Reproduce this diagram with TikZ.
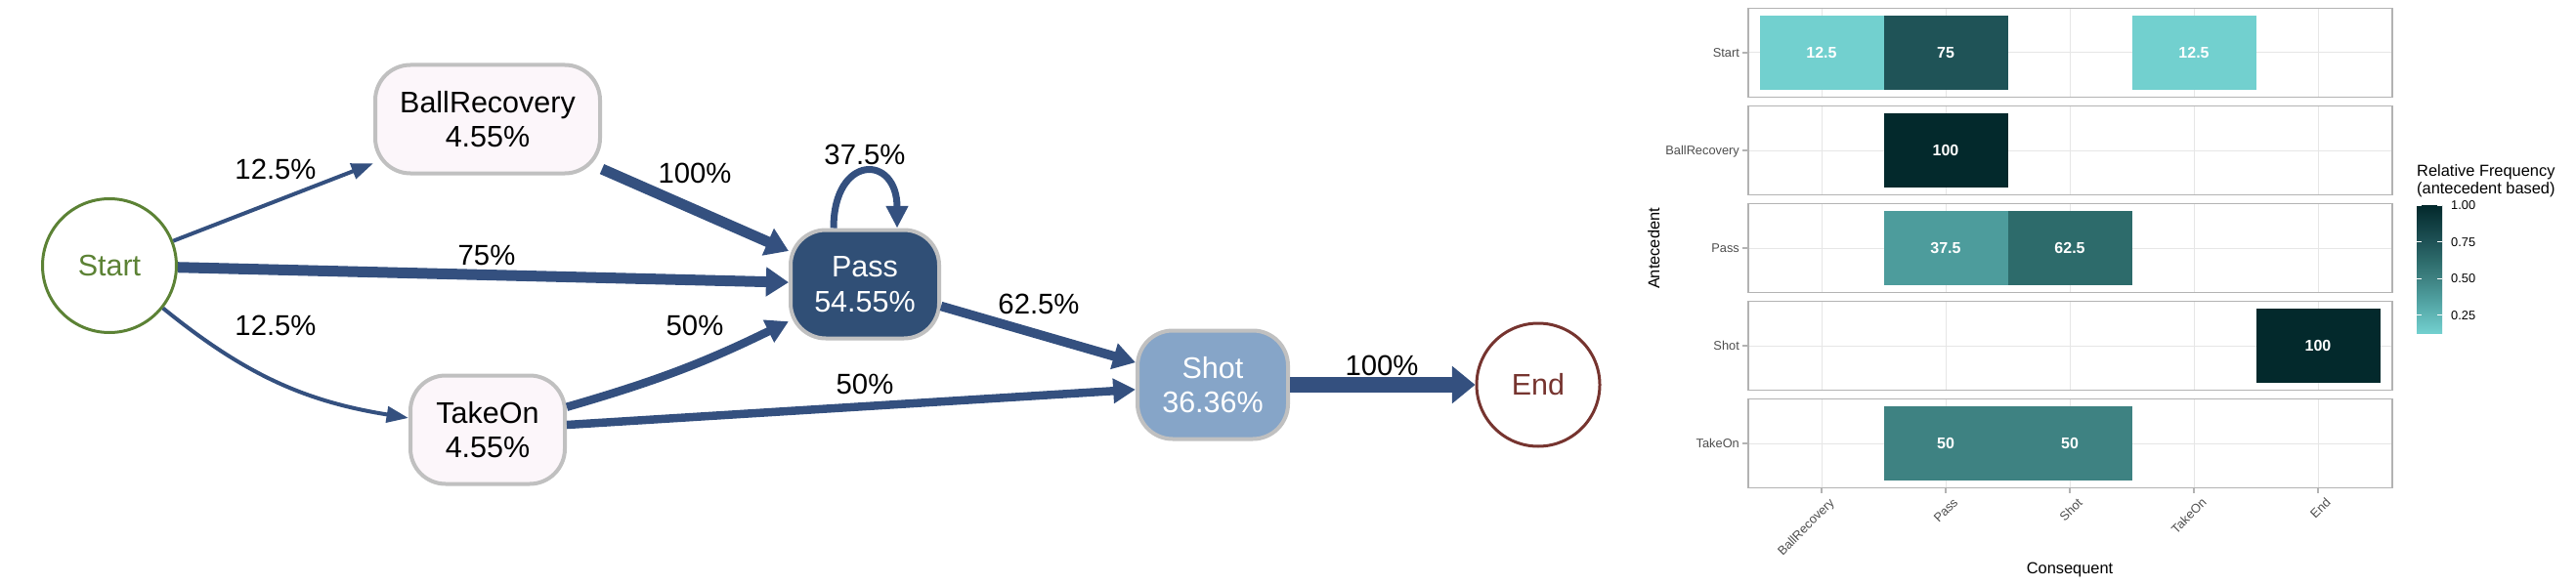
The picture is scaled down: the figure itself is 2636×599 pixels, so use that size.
\documentclass[tikz,border=0pt]{standalone}
\usepackage{fontspec}
\setmainfont{Liberation Sans}
\usetikzlibrary{arrows.meta}

\definecolor{edgeblue}{HTML}{34507F}
\definecolor{passblue}{HTML}{304F76}
\definecolor{shotblue}{HTML}{86A5C8}
\definecolor{actlight}{HTML}{FCF6FA}
\definecolor{actborder}{HTML}{C0C0C0}
\definecolor{startgreen}{HTML}{5C8235}
\definecolor{endbrown}{HTML}{76342F}
\definecolor{t125}{HTML}{72D0CF}
\definecolor{t375}{HTML}{4D9C9C}
\definecolor{t500}{HTML}{3E8282}
\definecolor{t625}{HTML}{2D6B6B}
\definecolor{t750}{HTML}{1F5357}
\definecolor{t1000}{HTML}{03292C}
\definecolor{panelgray}{HTML}{B3B3B3}
\definecolor{gridgray}{HTML}{E6E6E6}
\definecolor{axgray}{HTML}{4D4D4D}

\newcommand{\procfont}{\fontsize{30.5}{35.5}\selectfont}
\newcommand{\pctfont}{\fontsize{29.3}{34}\selectfont}
\newcommand{\axfont}{\fontsize{12.8}{15}\selectfont}
\newcommand{\ttlfont}{\fontsize{16.4}{18.5}\selectfont}
\newcommand{\cellfont}{\fontsize{16}{18}\selectfont\bfseries}

\pgfdeclareverticalshading{freqbar}{100bp}{color(0bp)=(t125); color(25bp)=(t125); color(39.29bp)=(t375); color(46.43bp)=(t500); color(53.57bp)=(t625); color(60.71bp)=(t750); color(75bp)=(t1000); color(100bp)=(t1000)}

\tikzset{
  act/.style={draw=actborder, line width=4pt, rounded corners=36pt, minimum height=111pt, inner xsep=0pt, align=center, font=\procfont},
  term/.style={circle, line width=3pt, inner sep=0pt, font=\procfont},
  flow/.style={draw=edgeblue, line width=#1, -{Triangle[length=22pt 0.1, width=9pt 1.8]}},
  pctlbl/.style={inner sep=0pt, font=\pctfont},
  gridln/.style={draw=gridgray, line width=1pt},
  tickln/.style={draw=panelgray, line width=1.2pt},
  panelln/.style={draw=panelgray, line width=1.3pt},
  rowlbl/.style={inner sep=0pt, anchor=base east, text=axgray, font=\axfont},
  collbl/.style={inner sep=0pt, anchor=north east, rotate=45, text=axgray, font=\axfont},
  cell/.style={inner sep=0pt, text=white, font=\cellfont},
  axttl/.style={inner sep=0pt, anchor=base, font=\ttlfont},
  legttl/.style={inner sep=0pt, anchor=base west, font=\ttlfont},
  leglbl/.style={inner sep=0pt, anchor=west, text=black, font=\axfont}
}

\begin{document}
\begin{tikzpicture}[x=1pt, y=1pt]
    \useasboundingbox (0,0) rectangle (2636,-599);

    \begin{scope}
      \node[term, draw=startgreen, text=startgreen, minimum size=137pt] (start) at (112,-272) {Start};
      \node[act, fill=actlight, minimum width=230pt] (ballrec) at (499,-122) {BallRecovery\\4.55\%};
      \node[act, fill=actlight, minimum width=158pt] (takeon) at (499,-440) {TakeOn\\4.55\%};
      \node[act, fill=passblue, text=white, minimum width=152pt] (pass) at (885,-291) {Pass\\54.55\%};
      \node[act, fill=shotblue, text=white, minimum width=154pt] (shot) at (1241,-394) {Shot\\36.36\%};
      \node[term, draw=endbrown, text=endbrown, minimum size=126pt] (end) at (1574,-394) {End};

      \draw[flow=4pt] (start) -- (ballrec);
      \draw[flow=4pt] (start) to[bend right=15] (takeon);
      \draw[flow=11pt] (start) -- (pass);
      \draw[flow=11pt] (ballrec) -- (pass);
      \draw[flow=8.5pt] (takeon) to[bend right=5] (pass);
      \draw[flow=8.5pt] (takeon) -- (shot);
      \draw[flow=7pt] ([xshift=-32pt]pass.north) .. controls +(0,76) and +(0,76) .. ([xshift=33pt]pass.north);
      \draw[flow=9.5pt] (pass) -- (shot);
      \draw[flow=15.5pt] (shot) -- (end);

      \node[pctlbl] (p-sb) at (282,-173) {12.5\%};
      \node[pctlbl] (p-st) at (282,-333) {12.5\%};
      \node[pctlbl] (p-sp) at (498,-261) {75\%};
      \node[pctlbl] (p-bp) at (711,-177) {100\%};
      \node[pctlbl] (p-pp) at (885,-158) {37.5\%};
      \node[pctlbl] (p-tp) at (711,-333) {50\%};
      \node[pctlbl] (p-ps) at (1063,-311) {62.5\%};
      \node[pctlbl] (p-ts) at (885,-393) {50\%};
      \node[pctlbl] (p-se) at (1414,-374) {100\%};
    \end{scope}

    \begin{scope}
      \foreach \r [count=\i from 0] in {Start,BallRecovery,Pass,Shot,TakeOn} {
        \foreach \c in {0,...,4}
          \draw[gridln] ({1864+127*\c},{-8.4-100*\i}) -- ({1864+127*\c},{-99.8-100*\i});
        \draw[gridln] (1789,{-54-100*\i}) -- (2448,{-54-100*\i});
        \draw[tickln] (1783,{-54-100*\i}) -- (1789,{-54-100*\i});
        \node[rowlbl] (ante-\i) at (1780,{-58.6-100*\i}) {\r};
      }
      \foreach \c/\i/\v/\col in {0/0/12.5/t125, 1/0/75/t750, 3/0/12.5/t125, 1/1/100/t1000, 1/2/37.5/t375, 2/2/62.5/t625, 4/3/100/t1000, 1/4/50/t500, 2/4/50/t500} {
        \fill[\col] ({1800.5+127*\c},{-15.7-100*\i}) rectangle ({1927.5+127*\c},{-92.3-100*\i});
        \node[cell] (cell-\c-\i) at ({1864+127*\c},{-54-100*\i}) {\v};
      }
      \foreach \i in {0,...,4}
        \draw[panelln] (1789,{-8.4-100*\i}) rectangle (2448,{-99.8-100*\i});
      \foreach \k [count=\c from 0] in {BallRecovery,Pass,Shot,TakeOn,End} {
        \draw[tickln] ({1864+127*\c},-500) -- ({1864+127*\c},-505);
        \node[collbl] (cons-\c) at ({1871+127*\c},-509) {\k};
      }
      \node[axttl] (xttl) at (2118,-587.5) {Consequent};
      \node[axttl, rotate=90] (yttl) at (1698,-254.5) {Antecedent};

      \node[legttl] (legttl-a) at (2473,-180.5) {Relative Frequency};
      \node[legttl] (legttl-b) at (2473,-198.5) {(antecedent based)};
      \shade[shading=freqbar] (2473,-210.5) rectangle (2499,-341.5);
      \foreach \v [count=\n] in {0.25,0.50,0.75,1.00} {
        \draw[white, line width=0.8pt] (2473,{-341.5+150*(\v-0.125)}) -- ++(5,0);
        \draw[white, line width=0.8pt] (2494,{-341.5+150*(\v-0.125)}) -- ++(5,0);
        \node[leglbl] (leg-\n) at (2508,{-341.5+150*(\v-0.125)}) {\v};
      }
    \end{scope}
\end{tikzpicture}
\end{document}
